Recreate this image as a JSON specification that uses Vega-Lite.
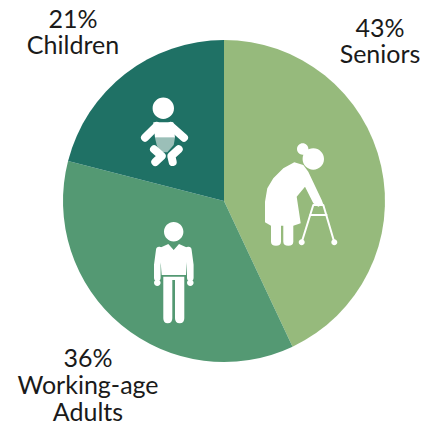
{
  "$schema": "https://vega.github.io/schema/vega-lite/v6.json",
  "autosize": {"type": "none"},
  "padding": {"left": 63, "top": 40, "right": 49, "bottom": 62},
  "width": 322,
  "height": 322,
  "background": "white",
  "view": {"stroke": null},
  "datasets": {
    "groups": [
      {"group": "Seniors", "rank": 1, "share": 43, "label": "43%\nSeniors"},
      {"group": "Working-age Adults", "rank": 2, "share": 36, "label": "36%\nWorking-age\nAdults"},
      {"group": "Children", "rank": 3, "share": 21, "label": "21%\nChildren"}
    ],
    "figures": [
      {"part": "baby"},
      {"part": "adult"},
      {"part": "elder"}
    ]
  },
  "data": {"name": "groups"},
  "layer": [
    {
      "mark": {"type": "arc"},
      "encoding": {
        "theta": {"field": "share", "type": "quantitative", "stack": true, "scale": {"domain": [0, 100]}},
        "order": {"field": "rank", "type": "ordinal"},
        "color": {
          "field": "group",
          "type": "nominal",
          "legend": null,
          "scale": {
            "domain": ["Seniors", "Working-age Adults", "Children"],
            "range": ["#96BA7C", "#549973", "#1F7165"]
          }
        }
      }
    },
    {
      "data": {"name": "figures"},
      "mark": {"type": "point", "filled": true, "opacity": 1, "fill": "white", "stroke": null, "size": 4},
      "encoding": {
        "shape": {
          "field": "part",
          "type": "nominal",
          "legend": null,
          "scale": {
            "domain": ["baby", "adult", "elder"],
            "range": [
              "M-71.4 -92.7A10.7 10.7 0 1 1 -50 -92.7A10.7 10.7 0 1 1 -71.4 -92.7ZM-70.7 -78.7L-50.7 -78.7L-49 -63.3L-69 -63.3Z",
              "M-60 30.7A9.7 9.7 0 1 1 -40.6 30.7A9.7 9.7 0 1 1 -60 30.7ZM-55.7 43L-50.3 49L-45 43L-36 47L-38 74L-62.3 74L-64.5 47ZM-60.7 75.7L-39.7 75.7L-39.7 117.3Q-39.7 122.3 -44.3 122.3Q-49 122.3 -49 117.3L-49 79L-51.7 79L-51.7 117.3Q-51.7 122.3 -56.3 122.3Q-60.7 122.3 -60.7 117.3ZM-70 81.7A3.3 3.3 0 1 1 -63.4 81.7A3.3 3.3 0 1 1 -70 81.7ZM-37 81.7A3.3 3.3 0 1 1 -30.4 81.7A3.3 3.3 0 1 1 -37 81.7Z",
              "M73 -52A5.7 5.7 0 1 1 84.4 -52A5.7 5.7 0 1 1 73 -52ZM78.6 -42A10.7 10.7 0 1 1 100 -42A10.7 10.7 0 1 1 78.6 -42ZM70.3 -38.7L79.3 -36L84.3 -29.3L97.7 -1L99.3 3.3L94.3 5.7L89.3 2.3L81 -14.3L72.7 -4.3L76.7 22.3L69.3 24.7L69.3 40.7Q69.3 44.7 64.3 44.7Q59.3 44.7 59.3 40.7L59.3 24.7L57 24.7L57 40.7Q57 44.7 52 44.7Q47 44.7 47 40.7L47 24.7L41 21.3L41 0.7L43.3 -12.7L49.3 -22.7L59.3 -32.7ZM74.7 41.3A3 3 0 1 1 80.7 41.3A3 3 0 1 1 74.7 41.3ZM107.3 41.3A3 3 0 1 1 113.3 41.3A3 3 0 1 1 107.3 41.3Z"
            ]
          }
        }
      }
    },
    {
      "data": {"values": [{"part": "diaper"}]},
      "mark": {
        "type": "point",
        "filled": true,
        "opacity": 1,
        "fill": "#9BBFB8",
        "stroke": null,
        "size": 4,
        "shape": "M-69 -63.3L-49 -63.3L-50.3 -56L-56.7 -48.7L-64 -48.7L-67.3 -56Z"
      },
      "encoding": {}
    },
    {
      "data": {"values": [{"part": "baby limbs"}]},
      "mark": {
        "type": "point",
        "filled": false,
        "opacity": 1,
        "stroke": "white",
        "strokeCap": "round",
        "strokeJoin": "round",
        "strokeWidth": 8,
        "size": 4,
        "shape": "M-67.3 -75L-79 -63.3M-53.3 -75L-40 -63.3M-70 -51.7L-62.3 -45L-68.7 -39M-45.3 -51.7L-52.7 -45L-51.3 -39"
      },
      "encoding": {}
    },
    {
      "data": {"values": [{"part": "adult arms"}]},
      "mark": {
        "type": "point",
        "filled": false,
        "opacity": 1,
        "stroke": "white",
        "strokeCap": "round",
        "strokeJoin": "round",
        "strokeWidth": 6.6,
        "size": 4,
        "shape": "M-64.7 49L-66.7 64L-66.7 76.7M-35.7 49L-33.7 64L-33.7 76.7"
      },
      "encoding": {}
    },
    {
      "data": {"values": [{"part": "walker"}]},
      "mark": {
        "type": "point",
        "filled": false,
        "opacity": 1,
        "stroke": "white",
        "strokeCap": "round",
        "strokeJoin": "round",
        "strokeWidth": 2,
        "size": 4,
        "shape": "M77.7 41.3L89.3 4L99.3 4L110.3 41.3M86 14L102.7 14"
      },
      "encoding": {}
    },
    {
      "transform": [{"filter": "datum.group === 'Seniors'"}],
      "mark": {"type": "text", "font": "Lato", "fontSize": 25, "color": "#1a1a1a", "align": "center", "baseline": "alphabetic", "lineBreak": "\n", "lineHeight": 26, "dx": 156, "dy": -164},
      "encoding": {"text": {"field": "label"}}
    },
    {
      "transform": [{"filter": "datum.group === 'Working-age Adults'"}],
      "mark": {"type": "text", "font": "Lato", "fontSize": 25, "color": "#1a1a1a", "align": "center", "baseline": "alphabetic", "lineBreak": "\n", "lineHeight": 27, "dx": -136, "dy": 166},
      "encoding": {"text": {"field": "label"}}
    },
    {
      "transform": [{"filter": "datum.group === 'Children'"}],
      "mark": {"type": "text", "font": "Lato", "fontSize": 25, "color": "#1a1a1a", "align": "center", "baseline": "alphabetic", "lineBreak": "\n", "lineHeight": 26, "dx": -151, "dy": -173},
      "encoding": {"text": {"field": "label"}}
    }
  ]
}
